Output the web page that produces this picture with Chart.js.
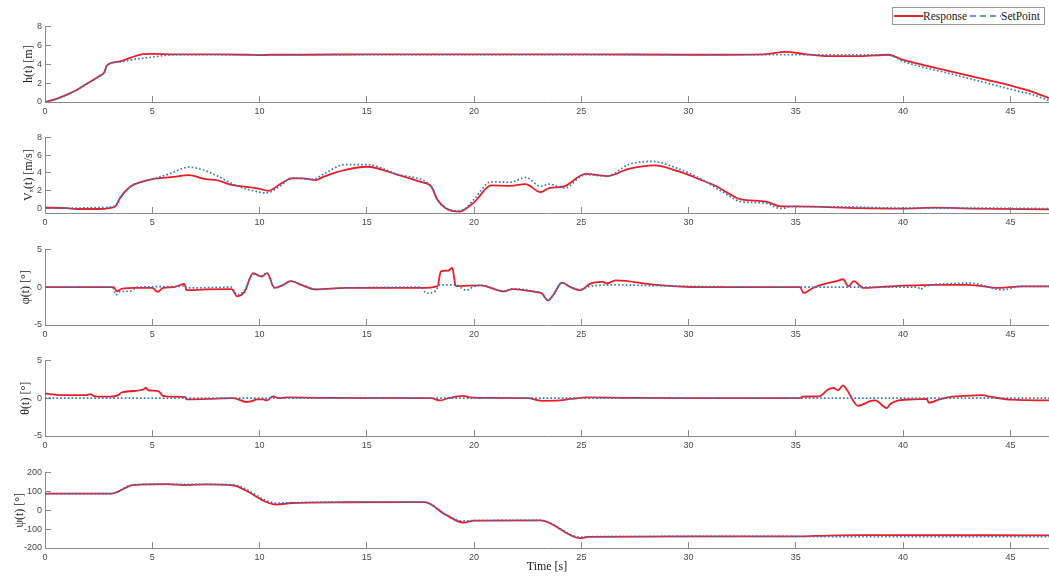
<!DOCTYPE html>
<html>
<head>
<meta charset="utf-8">
<script src="https://cdn.jsdelivr.net/npm/chart.js@4.4.0/dist/chart.umd.min.js"></script>
<style>
  body { margin: 0; background: #fff; width: 1049px; height: 576px; position: relative; overflow: hidden; }
  canvas { position: absolute; left: 0; }
  #legend { position: absolute; left: 892px; top: 7px; width: 151px; height: 16px; border: 1px solid #9a9a9a; background: #fff;
            font: 11.5px "Liberation Serif", serif; color: #222; white-space: nowrap; }
  #legend svg, #legend span { position: absolute; top: 0; }
  #legend span { line-height: 16px; }
</style>
</head>
<body>
<canvas id="p1" width="1049" height="110" style="top:12px"></canvas>
<canvas id="p2" width="1049" height="110" style="top:123px"></canvas>
<canvas id="p3" width="1049" height="110" style="top:235px"></canvas>
<canvas id="p4" width="1049" height="110" style="top:346px"></canvas>
<canvas id="p5" width="1049" height="118" style="top:458px"></canvas>
<div id="legend">
  <svg width="30" height="16" style="left:1px"><line x1="0" y1="8" x2="29" y2="8" stroke="#ee1c25" stroke-width="2"/></svg>
  <span style="left:30px">Response</span>
  <svg width="33" height="16" style="left:76px"><line x1="1" y1="8" x2="32" y2="8" stroke="#2f78c8" stroke-width="1.6" stroke-dasharray="6,4"/></svg>
  <span style="left:108px">SetPoint</span>
</div>
<script>
// --- shared axis ---
const tMax = 46.8;
const timeTicks = [0, 5, 10, 15, 20, 25, 30, 35, 40, 45];

// --- h(t) ---
const hTicks = [0, 2, 4, 6, 8];
const hRespT = [0, 0.5, 1, 1.5, 2, 2.5, 2.75, 2.9, 3.5, 4, 4.5, 5, 6, 8, 9.5, 10, 10.5, 12, 15, 20, 25, 30, 33.5, 34.5, 35.5, 36.5, 38, 39.3, 40, 42, 44, 45, 46, 46.8];
const hResp  = [0, 0.3, 0.75, 1.3, 2.0, 2.7, 3.1, 3.9, 4.3, 4.7, 5.05, 5.1, 5.05, 5.05, 5.0, 4.95, 5.0, 5.0, 5.05, 5.05, 5.05, 5.0, 5.05, 5.3, 5.05, 4.85, 4.85, 5.0, 4.45, 3.35, 2.3, 1.75, 1.1, 0.4];
const hSetT  = [0, 0.5, 1, 1.5, 2, 2.5, 2.75, 2.9, 3.5, 4, 5, 5.5, 6, 10, 20, 30, 34, 35.5, 39.3, 40, 42, 44, 45, 46, 46.8];
const hSet   = [0, 0.3, 0.75, 1.3, 2.0, 2.7, 3.1, 3.9, 4.25, 4.45, 4.75, 4.9, 5.0, 5.0, 5.0, 5.0, 5.0, 5.0, 5.0, 4.3, 3.1, 1.95, 1.35, 0.8, 0.15];

// --- Vx(t) ---
const vTicks = [0, 2, 4, 6, 8];
const vRespT = [0, 1, 1.5, 2.5, 3.0, 3.3, 3.5, 4.0, 4.5, 5, 6, 6.7, 7.5, 8, 8.7, 9.5, 10, 10.4, 11, 11.5, 12, 12.6, 13, 14, 15, 16.5, 17.5, 18, 18.3, 18.7, 19.3, 20, 20.8, 21.7, 22.4, 23.1, 23.5, 24.2, 25.2, 26.2, 27.2, 28.4, 29.5, 30.5, 31.3, 31.9, 32.4, 33.6, 34.3, 35, 38, 40, 41.5, 43.2, 46.8];
const vResp  = [0.1, 0.05, -0.05, -0.05, 0.05, 0.3, 1.2, 2.5, 3.0, 3.3, 3.55, 3.75, 3.3, 3.2, 2.65, 2.4, 2.2, 2.0, 2.8, 3.4, 3.4, 3.2, 3.6, 4.35, 4.7, 3.75, 3.0, 2.5, 0.95, 0, -0.35, 0.7, 2.6, 2.55, 2.75, 1.85, 2.3, 2.5, 3.9, 3.65, 4.45, 4.85, 4.2, 3.3, 2.5, 1.65, 1.05, 0.78, 0.25, 0.25, 0.05, 0, 0.1, 0, -0.1];
const vSetT  = [0, 1, 2.5, 3.0, 3.3, 3.5, 4.0, 4.5, 5, 5.8, 6.7, 7.3, 8, 9, 10, 10.3, 11, 11.5, 12.5, 13, 14, 15, 16.5, 18, 18.3, 18.7, 19.3, 19.6, 20, 20.8, 21.7, 22.4, 23.1, 23.5, 24.2, 25.2, 26.2, 27.2, 28.3, 29.5, 30.4, 31.3, 31.9, 32.4, 33.6, 34.3, 34.8, 37, 40, 43, 46.8];
const vSet   = [0.05, 0.05, 0.1, 0.15, 0.4, 1.2, 2.5, 3.0, 3.3, 3.9, 4.65, 4.4, 3.7, 2.5, 1.85, 1.75, 2.6, 3.45, 3.3, 3.9, 4.95, 4.95, 3.8, 2.5, 0.95, 0, -0.25, 0, 1.05, 3.0, 2.95, 3.5, 2.5, 2.75, 2.3, 3.8, 3.65, 4.95, 5.3, 4.5, 3.55, 2.3, 1.4, 0.8, 0.6, 0, 0.2, 0.2, 0.05, 0.05, 0];

// --- phi(t) ---
const phiTicks = [-5, 0, 5];
const phiRespT = [0, 3.2, 3.35, 3.6, 4.2, 5.0, 5.25, 5.5, 6.0, 6.5, 6.6, 7.5, 8.7, 8.95, 9.3, 9.7, 10.1, 10.35, 10.7, 11.1, 11.45, 12.0, 12.6, 14, 17.5, 18.3, 18.45, 18.8, 18.98, 19.15, 20.3, 21.4, 21.8, 22.9, 23.15, 23.45, 23.7, 24.1, 24.5, 24.95, 25.4, 26.0, 26.2, 26.6, 28.5, 30.5, 35.2, 35.35, 35.8, 36.3, 36.9, 37.2, 37.45, 37.7, 38.15, 39, 41.5, 43, 44.5, 45.5, 46.8];
const phiResp  = [0, 0, -0.55, -0.2, -0.1, -0.1, -0.6, -0.1, 0, 0.45, -0.4, -0.3, -0.25, -1.2, -0.6, 1.85, 1.4, 1.85, -0.1, 0.3, 0.8, 0.25, -0.3, -0.1, -0.1, 0.15, 2.1, 2.2, 2.55, 0.15, 0.25, -0.55, -0.25, -0.65, -0.8, -1.75, -1.0, 0.6, 0, -0.4, 0.45, 0.7, 0.5, 0.9, 0.3, 0, 0, -0.75, -0.1, 0.4, 0.8, 1.05, 0.1, 0.8, -0.1, 0.05, 0.3, 0.3, -0.1, 0.1, 0.1];
const phiSetT  = [0, 3.15, 3.3, 3.5, 4.0, 4.3, 6.3, 6.5, 6.6, 8.7, 8.95, 9.3, 9.7, 10.1, 10.35, 10.7, 11.1, 11.45, 12.0, 12.6, 14, 17.5, 17.8, 18.2, 18.4, 19.2, 19.35, 19.66, 20.0, 20.3, 21.4, 21.8, 22.9, 23.15, 23.45, 23.7, 24.1, 24.5, 24.95, 25.4, 26.5, 28.5, 30.5, 35.3, 38.5, 40.7, 40.8, 41.0, 42.5, 43.0, 43.5, 44.6, 45.5, 46.8];
const phiSet   = [0, 0, -1.0, -0.6, -0.5, 0, 0.1, 0.2, -0.1, 0, -1.0, -0.4, 1.7, 1.5, 1.9, -0.1, 0.3, 0.8, 0.3, -0.3, -0.1, 0, -0.8, -0.5, 0.3, 0.3, 0, -0.4, 0.1, 0.25, -0.5, -0.2, -0.6, -0.8, -1.7, -1.0, 0.6, 0, -0.3, 0.1, 0.3, 0.2, 0.1, 0, 0, 0, -0.3, 0.1, 0.5, 0.55, 0.4, -0.35, 0.1, 0.1];

// --- theta(t) ---
const thetaTicks = [-5, 0, 5];
const thetaRespT = [0, 1.0, 1.94, 2.1, 2.33, 3.03, 3.42, 3.57, 4.1, 4.58, 4.7, 4.82, 5.28, 5.5, 5.8, 6.53, 6.6, 7.54, 8.78, 9.4, 9.64, 9.87, 10.18, 10.33, 10.64, 10.88, 11.27, 13, 18.0, 18.4, 18.8, 19.5, 19.8, 20.3, 22.5, 23.2, 24.0, 24.5, 25.3, 27, 30, 35.2, 35.3, 36.1, 36.5, 36.75, 36.97, 37.2, 37.37, 37.9, 38.46, 38.7, 39.24, 39.39, 39.7, 40.47, 41.1, 41.2, 41.7, 42.3, 42.8, 43.7, 44.06, 45.07, 46.8];
const thetaResp  = [0.6, 0.4, 0.4, 0.55, 0.25, 0.2, 0.4, 0.75, 0.95, 1.15, 1.35, 1.05, 0.95, 0.3, 0.2, 0.15, -0.15, -0.1, 0, -0.5, -0.4, -0.15, -0.15, -0.3, 0.25, 0, 0.1, 0.05, 0.0, -0.3, 0.0, 0.3, 0.1, 0.05, 0.0, -0.35, -0.3, -0.1, 0.1, 0.05, 0.0, 0.0, 0.2, 0.25, 1.15, 1.35, 1.05, 1.7, 1.15, -1.0, -0.4, -0.3, -1.3, -0.8, -0.35, -0.15, -0.1, -0.6, -0.15, 0.2, 0.3, 0.4, 0.2, -0.2, -0.3];
const thetaSetT  = [0, 46.8];
const thetaSet   = [0, 0];

// --- psi(t) ---
const psiTicks = [-200, -100, 0, 100, 200];
const psiRespT = [0, 3.1, 4.1, 5.7, 6.5, 7.5, 8.7, 10.8, 11.5, 14, 17.7, 18.65, 19.5, 20.0, 23.1, 24.95, 25.3, 30, 35, 36.5, 38, 46.8];
const psiResp  = [88, 88, 133, 138, 133, 137, 133, 30, 38, 42, 43, -22, -65, -55, -54, -148, -141, -139, -139, -134, -132, -133];
const psiSetT  = [0, 3.1, 4.1, 5.7, 8.7, 10.8, 11.5, 14, 17.7, 18.65, 19.5, 20.0, 23.1, 24.95, 25.3, 30, 35, 36.5, 46.8];
const psiSet   = [88, 88, 135, 137, 135, 38, 40, 43, 43, -22, -57, -55, -54, -143, -140, -139, -139, -140, -140];

// --- style ---
const axisGrey = '#8c8c8c';
const labelGrey = '#4a4a4a';
const tickFont = { family: '"Liberation Sans", Arial, sans-serif', size: 9 };
const serifFont = { family: '"Liberation Serif", "DejaVu Serif", serif', size: 12 };

const panels = [
    { id: 'p1', label: 'h(t) [m]',      min: 0,    max: 8,   ticks: hTicks,     rt: hRespT,     r: hResp,     st: hSetT,     s: hSet,     pad: 22 },
    { id: 'p2', label: 'Vₓ(t) [m/s]',   min: -0.5, max: 8,   ticks: vTicks,     rt: vRespT,     r: vResp,     st: vSetT,     s: vSet,     pad: 22 },
    { id: 'p3', label: 'φ(t) [°]',      min: -5,   max: 5,   ticks: phiTicks,   rt: phiRespT,   r: phiResp,   st: phiSetT,   s: phiSet,   pad: 19 },
    { id: 'p4', label: 'θ(t) [°]',      min: -5,   max: 5,   ticks: thetaTicks, rt: thetaRespT, r: thetaResp, st: thetaSetT, s: thetaSet, pad: 19 },
    { id: 'p5', label: 'ψ(t) [°]',      min: -200, max: 200, ticks: psiTicks,   rt: psiRespT,   r: psiResp,   st: psiSetT,   s: psiSet,   pad: 13, last: true }
];

const toPoints = (ts, vs) => ts.map((t, i) => ({ x: t, y: vs[i] }));

panels.forEach(p => {
    new Chart(document.getElementById(p.id), {
        type: 'line',
        data: {
            datasets: [
                { label: 'SetPoint', data: toPoints(p.st, p.s), borderColor: '#2f78c8', borderWidth: 1.7, borderDash: [1.6, 2.2], pointRadius: 0, cubicInterpolationMode: 'monotone', fill: false },
                { label: 'Response', data: toPoints(p.rt, p.r), borderColor: '#ee1c25', borderWidth: 1.8, pointRadius: 0, cubicInterpolationMode: 'monotone', fill: false }
            ]
        },
        options: {
            responsive: false, animation: false, events: [],
            layout: { padding: { top: 10, left: 0, right: 0, bottom: 0 } },
            plugins: { legend: { display: false }, tooltip: { enabled: false } },
            scales: {
                x: {
                    type: 'linear', min: 0, max: tMax,
                    afterBuildTicks: a => { a.ticks = timeTicks.map(v => ({ value: v })); },
                    afterFit: s => { s.height = p.last ? 28 : 20; },
                    grid: { drawOnChartArea: false, tickLength: -6, color: axisGrey },
                    border: { color: axisGrey },
                    ticks: { padding: 10, color: labelGrey, font: tickFont, maxRotation: 0, autoSkip: false },
                    title: p.last ? { display: true, text: 'Time [s]', color: '#222', font: serifFont, padding: { top: 0, bottom: 2 } } : { display: false }
                },
                y: {
                    min: p.min, max: p.max,
                    afterBuildTicks: a => { a.ticks = p.ticks.map(v => ({ value: v })); },
                    afterFit: s => { s.width = 45; },
                    grid: { drawOnChartArea: false, tickLength: -6, color: axisGrey },
                    border: { color: axisGrey },
                    ticks: { padding: 9, color: labelGrey, font: tickFont },
                    title: { display: true, text: p.label, color: '#222', font: serifFont, padding: { top: p.pad, bottom: 0 } }
                }
            }
        }
    });
});
</script>
</body>
</html>
